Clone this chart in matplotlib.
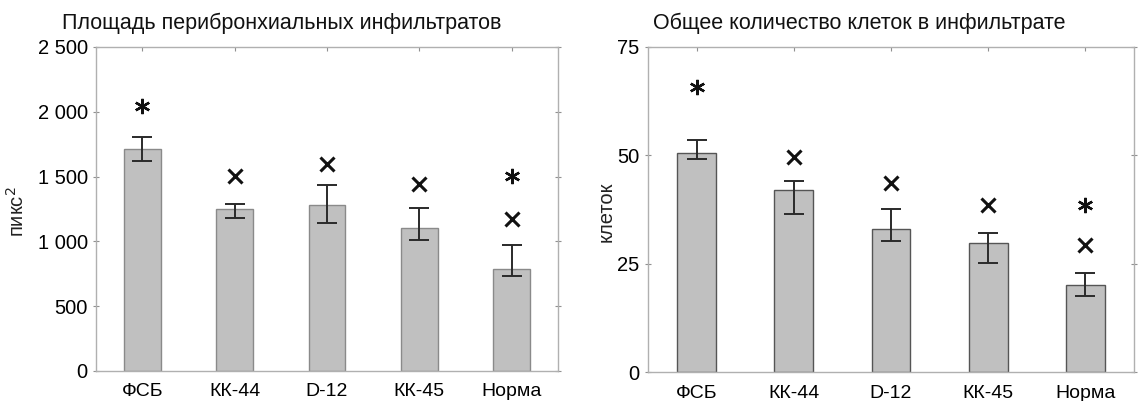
import matplotlib
matplotlib.use('Agg')
import matplotlib.pyplot as plt
import numpy as np

plt.rcParams['font.family'] = ['Liberation Sans', 'DejaVu Sans']

groups = ['ФСБ', 'КК-44', 'D-12', 'КК-45', 'Норма']

# площадь инфильтратов, пикс^2
area_mean = [1712, 1251, 1280, 1102, 785]
area_hi = [1807, 1287, 1432, 1256, 976]
area_lo = [1620, 1177, 1141, 1007, 731]
area_star = [2047, None, None, None, 1506]
area_cross = [None, 1501, 1596, 1442, 1174]
area_ticks = [0, 500, 1000, 1500, 2000, 2500]
area_ticklabels = ['0', '500', '1 000', '1 500', '2 000', '2 500']

# количество клеток
cells_mean = [50.5, 41.9, 32.9, 29.7, 20.1]
cells_hi = [53.6, 44.0, 37.5, 32.1, 22.9]
cells_lo = [49.1, 36.5, 30.3, 25.2, 17.6]
cells_star = [65.7, None, None, None, 38.5]
cells_cross = [None, 49.7, 43.6, 38.5, 29.2]
cells_ticks = [0, 25, 50, 75]
cells_ticklabels = ['0', '25', '50', '75']

W, H = 1141, 401
fig = plt.figure(figsize=(W / 100, H / 100), dpi=100)


def panel(rect, mean, hi, lo, star, cross, ticks, ticklabels, ylab, title, title_xy, ylab_x, edge):
    ax = fig.add_axes(rect)
    x = np.arange(len(groups))
    mean = np.array(mean)
    yerr = [mean - np.array(lo), np.array(hi) - mean]
    ax.bar(x, mean, width=0.4, color='#c0c0c0', edgecolor=edge, linewidth=1.0, zorder=2)
    ax.errorbar(x, mean, yerr=yerr, fmt='none', ecolor='#2a2a2a', elinewidth=1.4,
                capsize=7, capthick=1.4, zorder=3)
    for i in range(len(groups)):
        if star[i] is not None:
            ax.plot(x[i], star[i], marker=(6, 2, 0), ms=11, mew=1.7, color='#111111',
                    linestyle='none', zorder=4)
        if cross[i] is not None:
            ax.plot(x[i], cross[i], marker='x', ms=10, mew=2.2, color='#111111',
                    linestyle='none', zorder=4)
    ax.set_xlim(-0.5, len(groups) - 0.5)
    ax.set_ylim(ticks[0], ticks[-1])
    ax.set_xticks(x)
    ax.set_xticklabels(groups, fontsize=14)
    ax.set_yticks(ticks)
    ax.set_yticklabels(ticklabels, fontsize=14.5)
    ax.tick_params(axis='x', direction='in', length=3, width=0.8, color='#909090',
                   top=True, pad=9)
    ax.tick_params(axis='y', direction='inout', length=4, width=0.8, color='#909090',
                   right=True, pad=4)
    for s in ax.spines.values():
        s.set_color('#b0b0b0')
        s.set_linewidth(1.0)
    fig.text(title_xy[0] / W, 1 - title_xy[1] / H, title, fontsize=15.5, ha='left',
             va='baseline', color='#111111')
    fig.text(ylab_x / W, 1 - 212 / H, ylab, fontsize=14.5, rotation=90, ha='center',
             va='center', color='#222222')
    return ax


panel([96 / W, 30 / H, 462 / W, 324 / H], area_mean, area_hi, area_lo, area_star, area_cross,
      area_ticks, area_ticklabels, 'пикс$^2$', 'Площадь перибронхиальных инфильтратов',
      (62, 29), 17, '#8a8a8a')
panel([648 / W, 29 / H, 486 / W, 325 / H], cells_mean, cells_hi, cells_lo, cells_star, cells_cross,
      cells_ticks, cells_ticklabels, 'клеток', 'Общее количество клеток в инфильтрате',
      (653, 29), 606, '#555555')

fig.savefig('out.png', dpi=100)
